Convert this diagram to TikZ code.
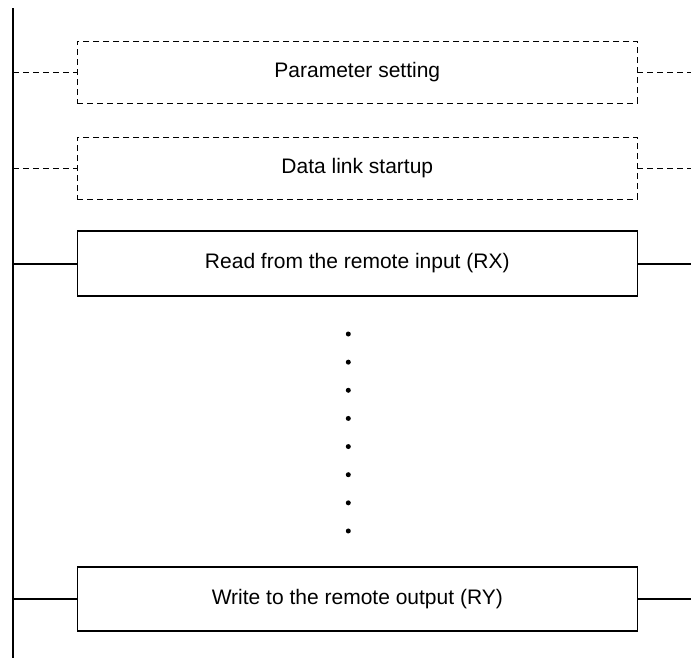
\documentclass[tikz,border=0pt]{standalone}
\usepackage{fontspec}
\setmainfont{Liberation Sans}
\begin{document}
\begin{tikzpicture}[x=1pt,y=-1pt,
  stepbox/.style={draw=black, line width=1.6pt, minimum width=560pt, inner sep=0pt, outer sep=0pt, font=\fontsize{21}{25}\selectfont},
  dashbox/.style={draw=black, line width=0.9pt, dash pattern=on 6pt off 4pt, minimum width=560pt, inner sep=0pt, outer sep=0pt, font=\fontsize{21}{25}\selectfont},
  solidlink/.style={line width=2pt},
  dashlink/.style={line width=0.9pt, dash pattern=on 6pt off 4pt},
  rail/.style={line width=2.2pt},
  dotmark/.style={circle, fill=black, inner sep=0pt, minimum size=5pt}]
\useasboundingbox (0,0) rectangle (691,659);
\coordinate (railtop) at (13,8);
\coordinate (railbot) at (13,658);
\coordinate (rightedge) at (691,0);
\draw[rail] (railtop) -- (railbot);

\node[dashbox, minimum height=62pt] (param) at (357.3,72) {Parameter setting};
\node[dashbox, minimum height=62pt] (startup) at (357.3,168) {Data link startup};
\node[stepbox, minimum height=65pt] (readrx) at (357.3,263.5) {Read from the remote input (RX)};
\node[stepbox, minimum height=64pt] (writery) at (357.3,599) {Write to the remote output (RY)};

\foreach \n in {param,startup}{
  \draw[dashlink] (\n.west -| railtop) -- (\n.west);
  \draw[dashlink] (\n.east) -- (\n.east -| rightedge);
}
\foreach \n in {readrx,writery}{
  \draw[solidlink] (\n.west -| railtop) -- (\n.west);
  \draw[solidlink] (\n.east) -- (\n.east -| rightedge);
}

\foreach \i in {0,...,7}{
  \node[dotmark] (dot\i) at (348.3,{334+28.14*\i}) {};
}
\end{tikzpicture}
\end{document}
